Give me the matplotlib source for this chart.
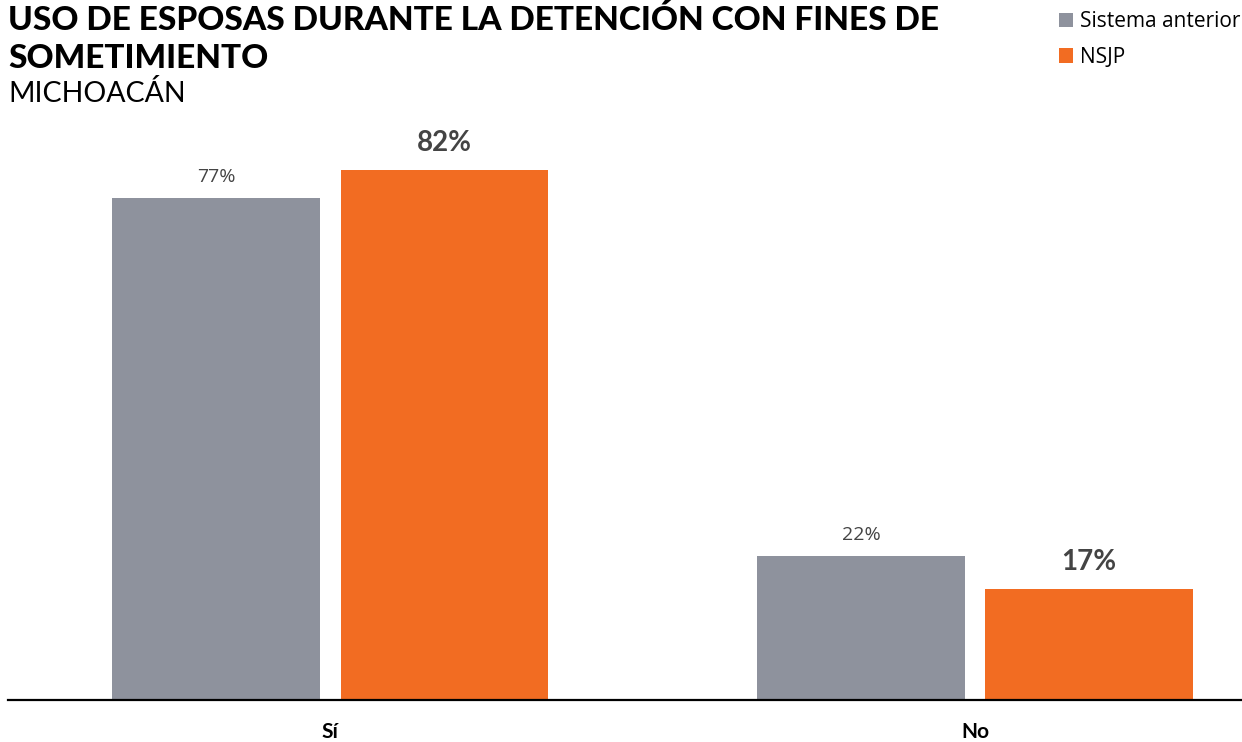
import numpy as np
import matplotlib.pyplot as plt

# datos
categorias = ["Sí", "No"]
series = ["Sistema anterior", "NSJP"]
sistema_anterior = [77.4, 22.2]
nsjp = [81.7, 17.1]
etiquetas_sa = ["77%", "22%"]
etiquetas_nsjp = ["82%", "17%"]

gris = "#8e929d"
naranja = "#f26c22"

plt.rcParams["font.family"] = ["Lato", "DejaVu Sans"]

fig = plt.figure(figsize=(12.42, 7.42), dpi=100)
ax = fig.add_axes([8 / 1242, 42 / 742, 1234 / 1242, 570 / 742])

x = np.arange(len(categorias))
ancho = 0.3225
desp = 0.177

b1 = ax.bar(x - desp, sistema_anterior, ancho, color=gris, label=series[0])
b2 = ax.bar(x + desp, nsjp, ancho, color=naranja, label=series[1])

for rect, txt in zip(b1, etiquetas_sa):
    ax.annotate(txt, (rect.get_x() + rect.get_width() / 2, rect.get_height()),
                xytext=(0, 9), textcoords="offset points", ha="center", va="bottom",
                fontsize=14, color="#444444", family=["Open Sans", "DejaVu Sans"])
for rect, txt in zip(b2, etiquetas_nsjp):
    ax.annotate(txt, (rect.get_x() + rect.get_width() / 2, rect.get_height()),
                xytext=(0, 10), textcoords="offset points", ha="center", va="bottom",
                fontsize=20, fontweight="bold", color="#444444")

ax.set_xlim(-0.5, 1.414)
ax.set_ylim(0, 87.9)
ax.set_xticks(x)
ax.set_xticklabels(categorias, fontsize=15, fontweight="bold")
ax.tick_params(axis="x", length=0, pad=16)
ax.set_yticks([])
for s in ["top", "right", "left"]:
    ax.spines[s].set_visible(False)
ax.spines["bottom"].set_linewidth(1.6)

fig.text(8 / 1242, 1 - 30 / 742, "USO DE ESPOSAS DURANTE LA DETENCIÓN CON FINES DE",
         ha="left", va="baseline", fontsize=24, fontweight="black")
fig.text(8 / 1242, 1 - 68 / 742, "SOMETIMIENTO",
         ha="left", va="baseline", fontsize=24, fontweight="black")
fig.text(8 / 1242, 1 - 102 / 742, "MICHOACÁN", ha="left", va="baseline", fontsize=20.5)

fig.legend(handles=[b1, b2], labels=series, loc="upper left",
           bbox_to_anchor=(1055 / 1242, 1 - 7 / 742), frameon=False,
           prop={"family": ["Open Sans", "DejaVu Sans"], "size": 15},
           handlelength=0.68, handleheight=0.68, handletextpad=0.3, labelspacing=0.7,
           borderaxespad=0, borderpad=0.2)

plt.savefig("out.png", dpi=100)
